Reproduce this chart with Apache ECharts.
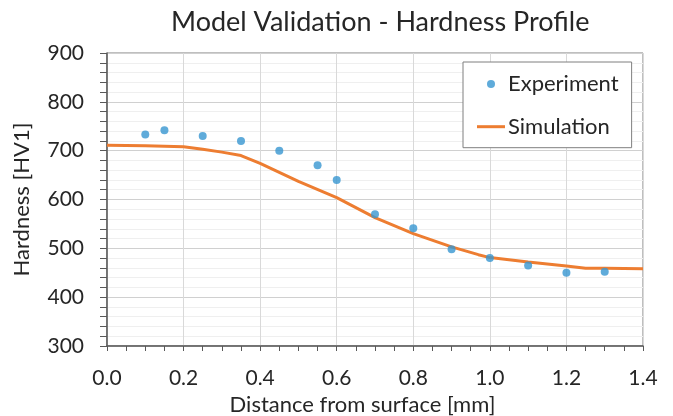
<!DOCTYPE html>
<html><head><meta charset="utf-8">
<script src="https://cdn.jsdelivr.net/npm/echarts@6/dist/echarts.min.js"></script>
<style>html,body{margin:0;padding:0;background:#fff}#c{width:673px;height:416px}</style>
</head><body><div id="c"></div>
<script>
const expX = [0.1, 0.15, 0.25, 0.35, 0.45, 0.55, 0.6, 0.7, 0.8, 0.9, 1.0, 1.1, 1.2, 1.3];
const expY = [733, 742, 730, 720, 700, 670, 640, 570, 541, 498, 480, 465, 450, 452];
const simX = [0, 0.1, 0.2, 0.25, 0.3, 0.35, 0.4, 0.5, 0.6, 0.7, 0.8, 0.9, 0.97, 1.0, 1.1, 1.2, 1.25, 1.3, 1.4];
const simY = [711, 710, 708, 703, 697, 690, 674, 637, 604, 563, 530, 503, 487, 481, 472, 464, 459, 459, 458];
const seriesNames = ['Experiment', 'Simulation'];
const titleText = 'Model Validation - Hardness Profile';
const xName = 'Distance from surface [mm]';
const yName = 'Hardness [HV1]';

const F = 'Lato, "Open Sans", sans-serif';
const TXT = '#262626';
const chart = echarts.init(document.getElementById('c'), null, {renderer: 'canvas'});
chart.setOption({
  animation: false,
  backgroundColor: '#fff',
  title: {text: titleText, left: 166, top: 4,
    textStyle: {fontFamily: F, fontSize: 27, fontWeight: 'normal', color: TXT}},
  grid: {left: 107, right: 30, top: 53, bottom: 70, show: true, borderColor: '#7f7f7f', borderWidth: 1,
    outerBoundsMode: 'none', containLabel: false},
  legend: {
    orient: 'vertical', left: 463, top: 62,
    padding: [11, 13, 10, 14], itemGap: 20.7, itemWidth: 28, itemHeight: 8,
    backgroundColor: '#fff', borderColor: '#7f7f7f', borderWidth: 1,
    textStyle: {fontFamily: F, fontSize: 22, color: TXT, lineHeight: 22, padding: [0, 0, 0, -2]},
    data: [{name: seriesNames[0], icon: 'circle'},
           {name: seriesNames[1], icon: 'path://M0,0H28V3H0Z'}]
  },
  xAxis: {
    type: 'value', min: 0, max: 1.4, interval: 0.2,
    name: xName, nameLocation: 'middle', nameGap: 46,
    nameTextStyle: {fontFamily: F, fontSize: 22, color: TXT, padding: [0, 25, 0, 0]},
    axisLine: {show: true, lineStyle: {color: '#595959', width: 1.5}},
    axisTick: {show: true, length: 5, lineStyle: {color: '#595959'}},
    minorTick: {show: true, splitNumber: 4, length: 5, lineStyle: {color: '#595959'}},
    axisLabel: {fontFamily: F, fontSize: 21, color: TXT, margin: 22, formatter: v => v.toFixed(1)},
    splitLine: {show: true, lineStyle: {color: '#d9d9d9', width: 1}},
    minorSplitLine: {show: false}
  },
  yAxis: {
    type: 'value', min: 300, max: 900, interval: 100,
    name: yName, nameLocation: 'middle', nameGap: 74,
    nameTextStyle: {fontFamily: F, fontSize: 22, color: TXT},
    axisLine: {show: true, lineStyle: {color: '#595959', width: 1.5}},
    axisTick: {show: true, length: 7, lineStyle: {color: '#595959'}},
    minorTick: {show: true, splitNumber: 5, length: 7, lineStyle: {color: '#595959'}},
    axisLabel: {fontFamily: F, fontSize: 21, color: TXT, margin: 23},
    splitLine: {show: true, lineStyle: {color: '#d0d0d0', width: 1}},
    minorSplitLine: {show: true, lineStyle: {color: '#efefef', width: 1}}
  },
  series: [
    {name: seriesNames[0], type: 'scatter', symbol: 'circle', symbolSize: 8,
      itemStyle: {color: '#3796d1'}, z: 3,
      data: expX.map((x, i) => [x, expY[i]])},
    {name: seriesNames[1], type: 'line', symbol: 'none', showSymbol: false,
      lineStyle: {color: '#ed7d31', width: 3}, itemStyle: {color: '#ed7d31'}, z: 2,
      data: simX.map((x, i) => [x, simY[i]])}
  ]
});
</script></body></html>
